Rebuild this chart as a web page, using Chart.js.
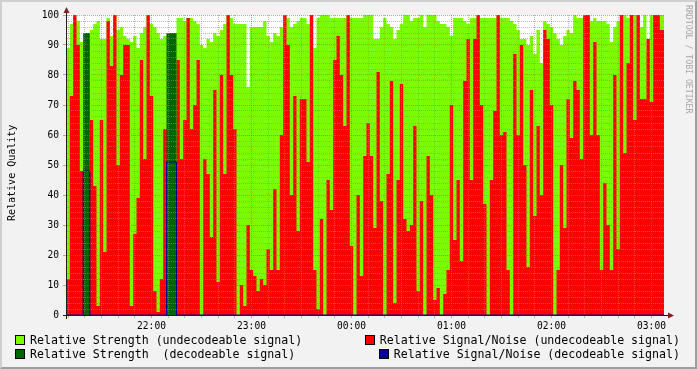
<!DOCTYPE html>
<html>
<head>
<meta charset="utf-8">
<script src="https://cdn.jsdelivr.net/npm/chart.js@4.4.1/dist/chart.umd.min.js"></script>
<style>
  html, body { margin: 0; padding: 0; background: #f2f2f2; }
  #wrap { position: relative; width: 697px; height: 369px; background: #f2f2f2; overflow: hidden;
          font-family: "DejaVu Sans Mono", monospace; color: #000; }
  #chart { position: absolute; left: 0; top: 0; }
  #frame { position: absolute; left: 0; top: 0; right: 0; bottom: 0; border-style: solid; border-width: 2px;
           border-color: #cfcfcf #9e9e9e #9e9e9e #cfcfcf; pointer-events: none; }
  .ytitle { position: absolute; left: 6px; top: 124px; width: 12px; height: 98px; writing-mode: vertical-rl;
            transform: rotate(180deg); font-size: 10px; line-height: 12px; white-space: nowrap; text-align: center; }
  .credit { position: absolute; left: 684px; top: 5px; writing-mode: vertical-rl; font-size: 8.2px; color: #a8a8a8; white-space: nowrap; }
  .leg { position: absolute; font-size: 11.6px; line-height: 13px; white-space: pre; }
  .leg i { display: inline-block; width: 8px; height: 8px; border: 1px solid #000; margin-right: 5px; vertical-align: -1px; }
</style>
</head>
<body>
<div id="wrap">
  <canvas id="chart" width="697" height="369"></canvas>
  <div class="ytitle">Relative Quality</div>
  <div class="credit">RRDTOOL / TOBI OETIKER</div>
  <div class="leg" style="left:15px; top:334px"><i style="background:#7cfc00"></i>Relative Strength (undecodeable signal)</div>
  <div class="leg" style="left:15px; top:348px"><i style="background:#006400"></i>Relative Strength  (decodeable signal)</div>
  <div class="leg" style="right:17px; top:334px"><i style="background:#ff0000"></i>Relative Signal/Noise (undecodeable signal)</div>
  <div class="leg" style="right:17px; top:348px"><i style="background:#000090"></i>Relative Signal/Noise (decodeable signal)</div>
  <div id="frame"></div>
</div>
<script>
// minutes after 21:00, one sample every 2 minutes
const START = 9, STEP = 2;

const strength = [
  93,89,97,99,98,91,94,94,95,97, 98,92,92,99,93,100,95,96,93,92, 91,93,89,94,96,100,97,96,94,92,
  93,93,94,94,99,99,98,99,99,98, 97,90,89,92,91,94,93,95,97,100, 99,97,97,97,97,76,96,96,96,96,
  98,93,91,94,93,96,100,99,96,97, 98,99,99,97,100,89,99,100,100,100, 99,99,99,99,99,100,99,99,99,99,
  100,100,100,92,92,96,99,97,96,92, 95,97,100,100,98,99,99,100,96,100, 100,100,98,97,97,96,93,99,99,99,
  98,97,99,99,100,99,99,99,99,99, 100,99,99,99,98,97,95,92,92,90, 93,87,95,84,98,97,96,94,92,90,
  93,95,94,100,99,99,100,100,98,99, 98,98,98,97,91,96,98,100,100,99, 100,100,100,96,100,88,100,100,100,100
];
const snr = [
  48,12,73,100,90,48,48,48,65,43, 3,65,21,98,83,100,50,80,90,90, 3,27,39,85,52,100,73,8,1,12,
  62,62,51,51,85,52,65,99,62,70, 85,0,52,47,26,75,11,80,47,100, 80,62,0,10,3,30,15,13,8,12,
  10,22,15,42,15,60,100,90,40,73, 28,72,72,51,100,15,2,32,0,45, 35,85,93,80,63,100,23,0,40,13,
  53,64,53,29,81,38,0,47,78,4, 45,77,32,28,30,63,8,38,0,53, 40,5,9,0,7,15,70,25,45,18,
  78,92,45,92,100,70,37,0,45,68, 100,60,61,15,0,87,60,90,50,16, 75,33,63,40,95,92,70,0,15,50,
  29,72,59,78,75,52,100,100,60,91, 60,15,44,30,15,80,22,100,54,84, 100,65,100,72,72,92,71,100,100,95
];
const strengthDec = [
  0,0,0,0,0,0,94,94,0,0, 0,0,0,0,0,0,0,0,0,0, 0,0,0,0,0,0,0,0,0,0,
  0,94,94,94,0,0,0,0,0,0, 0,0,0,0,0,0,0,0,0,0, 0,0,0,0,0,0,0,0,0,0,
  0,0,0,0,0,0,0,0,0,0, 0,0,0,0,0,0,0,0,0,0, 0,0,0,0,0,0,0,0,0,0,
  0,0,0,0,0,0,0,0,0,0, 0,0,0,0,0,0,0,0,0,0, 0,0,0,0,0,0,0,0,0,0,
  0,0,0,0,0,0,0,0,0,0, 0,0,0,0,0,0,0,0,0,0, 0,0,0,0,0,0,0,0,0,0,
  0,0,0,0,0,0,0,0,0,0, 0,0,0,0,0,0,0,0,0,0, 0,0,0,0,0,0,0,0,0,0
];
const snrDec = [
  0,0,0,0,0,0,48,48,0,0, 0,0,0,0,0,0,0,0,0,0, 0,0,0,0,0,0,0,0,0,0,
  0,51,51,51,0,0,0,0,0,0, 0,0,0,0,0,0,0,0,0,0, 0,0,0,0,0,0,0,0,0,0,
  0,0,0,0,0,0,0,0,0,0, 0,0,0,0,0,0,0,0,0,0, 0,0,0,0,0,0,0,0,0,0,
  0,0,0,0,0,0,0,0,0,0, 0,0,0,0,0,0,0,0,0,0, 0,0,0,0,0,0,0,0,0,0,
  0,0,0,0,0,0,0,0,0,0, 0,0,0,0,0,0,0,0,0,0, 0,0,0,0,0,0,0,0,0,0,
  0,0,0,0,0,0,0,0,0,0, 0,0,0,0,0,0,0,0,0,0, 0,0,0,0,0,0,0,0,0,0
];

// each value holds for one step, so add a closing point at the end
function toPts(arr) {
  const pts = arr.map((v, i) => ({ x: START + STEP * i, y: v }));
  pts.push({ x: START + STEP * arr.length, y: arr[arr.length - 1] });
  return pts;
}

function area(label, arr, color) {
  return {
    label: label, data: toPts(arr), backgroundColor: color, borderColor: "rgba(0,0,0,0)",
    borderWidth: 0, fill: "origin", stepped: "after", pointRadius: 0
  };
}

function hhmm(v) {
  const h = Math.floor((21 * 60 + v) / 60) % 24;
  return String(h).padStart(2, "0") + ":00";
}

const GRID = "rgba(143,143,143,0.6)";
const MGRID = "rgba(222,79,79,0.6)";

// white canvas, axis lines and arrows like rrdtool
const rrdFrame = {
  id: "rrdFrame",
  beforeDraw(chart) {
    const { ctx, chartArea: a } = chart;
    ctx.save();
    ctx.fillStyle = "#ffffff";
    ctx.fillRect(a.left, a.top, a.right - a.left, a.bottom - a.top);
    ctx.restore();
  },
  afterDraw(chart) {
    const { ctx, chartArea: a } = chart;
    ctx.save();
    ctx.strokeStyle = "#1f1f1f";
    ctx.lineWidth = 1;
    ctx.beginPath();
    ctx.moveTo(a.left - 0.5, a.bottom + 4);
    ctx.lineTo(a.left - 0.5, a.top - 2);
    ctx.moveTo(a.left - 4, a.bottom + 0.5);
    ctx.lineTo(a.right + 4, a.bottom + 0.5);
    ctx.stroke();
    ctx.fillStyle = "#801f1f";
    ctx.beginPath();
    ctx.moveTo(a.left - 3.5, a.top - 2);
    ctx.lineTo(a.left + 2.5, a.top - 2);
    ctx.lineTo(a.left - 0.5, a.top - 8);
    ctx.closePath();
    ctx.fill();
    ctx.beginPath();
    ctx.moveTo(a.right + 4, a.bottom - 2.5);
    ctx.lineTo(a.right + 4, a.bottom + 3.5);
    ctx.lineTo(a.right + 10, a.bottom + 0.5);
    ctx.closePath();
    ctx.fill();
    ctx.restore();
  }
};

new Chart(document.getElementById("chart"), {
  type: "line",
  data: {
    datasets: [
      {
        label: "Relative Signal/Noise (decodeable signal)", data: toPts(snrDec),
        borderColor: "#000090", borderWidth: 1, fill: false, stepped: "after", pointRadius: 0
      },
      area("Relative Strength  (decodeable signal)", strengthDec, "#006400"),
      area("Relative Signal/Noise (undecodeable signal)", snr, "#ff0000"),
      area("Relative Strength (undecodeable signal)", strength, "#7cfc00")
    ]
  },
  options: {
    responsive: false,
    animation: false,
    events: [],
    layout: { padding: { top: 15, right: 33, left: 0, bottom: 0 } },
    plugins: { legend: { display: false }, tooltip: { enabled: false } },
    scales: {
      x: {
        type: "linear", min: 9.3, max: 367.5,
        afterFit: s => { s.height = 54; },
        ticks: {
          stepSize: 10, includeBounds: false, autoSkip: false, maxRotation: 0, padding: 3,
          color: "#000", font: { family: "DejaVu Sans Mono", size: 9.6 },
          callback: v => (v % 60 === 0 ? hhmm(v) : "")
        },
        grid: {
          z: 1,
          color: c => (c.tick && c.tick.value % 60 === 0 ? MGRID : GRID),
          tickColor: c => (c.tick && c.tick.value % 60 === 0 ? MGRID : GRID),
          tickLength: 3
        },
        border: { display: false, dash: [1, 1] }
      },
      y: {
        min: 0, max: 100,
        afterFit: s => { s.width = 67; },
        ticks: {
          stepSize: 2, autoSkip: false, padding: 4,
          color: "#000", font: { family: "DejaVu Sans Mono", size: 9.6 },
          callback: v => (v % 10 === 0 ? v : "")
        },
        grid: {
          z: 1,
          color: c => (c.tick && c.tick.value % 10 === 0 ? MGRID : GRID),
          tickColor: c => (c.tick && c.tick.value % 10 === 0 ? MGRID : "rgba(0,0,0,0)"),
          tickLength: 4
        },
        border: { display: false, dash: [1, 1] }
      }
    }
  },
  plugins: [rrdFrame]
});
</script>
</body>
</html>
